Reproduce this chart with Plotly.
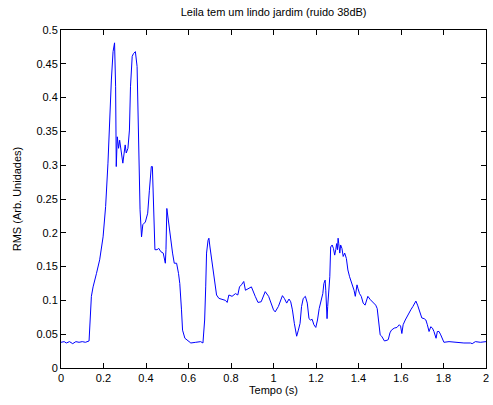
import plotly.graph_objects as go

tempo = [0.000, 0.015, 0.025, 0.040, 0.055, 0.070, 0.085, 0.100, 0.115, 0.132,
         0.143, 0.151, 0.167, 0.182, 0.198, 0.210, 0.221, 0.229, 0.237, 0.245,
         0.252, 0.257, 0.260, 0.265, 0.271, 0.276, 0.283, 0.291, 0.302, 0.307,
         0.315, 0.322, 0.327, 0.335, 0.341, 0.350, 0.358, 0.364, 0.369, 0.372,
         0.379, 0.385, 0.397, 0.408, 0.416, 0.425, 0.430, 0.436, 0.442, 0.452,
         0.460, 0.470, 0.481, 0.491, 0.494, 0.498, 0.505, 0.514, 0.525, 0.533,
         0.544, 0.553, 0.559, 0.567, 0.572, 0.583, 0.611, 0.634, 0.657, 0.668,
         0.676, 0.681, 0.685, 0.692, 0.696, 0.701, 0.709, 0.717, 0.724, 0.732,
         0.743, 0.759, 0.774, 0.782, 0.790, 0.805, 0.821, 0.832, 0.840, 0.849,
         0.860, 0.868, 0.883, 0.896, 0.914, 0.927, 0.942, 0.961, 0.977,
         1.000, 1.008, 1.023, 1.042, 1.051, 1.062, 1.073, 1.081, 1.089, 1.098,
         1.109, 1.117, 1.125, 1.132, 1.140, 1.150, 1.159, 1.167, 1.174, 1.182,
         1.190, 1.199, 1.207, 1.215, 1.223, 1.232, 1.237, 1.243, 1.246, 1.249,
         1.252, 1.255, 1.260, 1.265, 1.269, 1.276, 1.282, 1.288, 1.293, 1.297,
         1.301, 1.304, 1.307, 1.312, 1.316, 1.322, 1.328, 1.335, 1.343, 1.350,
         1.358, 1.369, 1.379, 1.385, 1.393, 1.397, 1.405, 1.413, 1.422, 1.431,
         1.444, 1.456, 1.469, 1.481, 1.488, 1.494, 1.502, 1.509, 1.522, 1.534,
         1.540, 1.548, 1.555, 1.568, 1.581, 1.592, 1.598, 1.604, 1.610, 1.620,
         1.631, 1.646, 1.656, 1.670, 1.678, 1.688, 1.698, 1.709, 1.717, 1.724,
         1.732, 1.740, 1.748, 1.755, 1.765, 1.771, 1.779, 1.787, 1.794, 1.802,
         1.826, 1.849, 1.872, 1.896, 1.927, 1.935, 1.950, 1.974, 2.000]

rms = [0.038, 0.039, 0.037, 0.039, 0.036, 0.039, 0.038, 0.039, 0.038, 0.040,
       0.106, 0.120, 0.140, 0.160, 0.194, 0.239, 0.303, 0.372, 0.426, 0.468,
       0.481, 0.416, 0.298, 0.342, 0.325, 0.337, 0.318, 0.303, 0.330, 0.318,
       0.325, 0.352, 0.416, 0.461, 0.465, 0.468, 0.446, 0.352, 0.283, 0.234,
       0.194, 0.212, 0.216, 0.229, 0.263, 0.298, 0.298, 0.244, 0.175, 0.175,
       0.177, 0.172, 0.170, 0.155, 0.175, 0.236, 0.219, 0.189, 0.170, 0.155,
       0.155, 0.140, 0.125, 0.086, 0.056, 0.044, 0.037, 0.038, 0.039, 0.037,
       0.071, 0.120, 0.170, 0.189, 0.192, 0.179, 0.160, 0.145, 0.125, 0.108,
       0.103, 0.101, 0.100, 0.097, 0.108, 0.106, 0.110, 0.108, 0.120, 0.123,
       0.128, 0.115, 0.118, 0.120, 0.106, 0.097, 0.098, 0.113, 0.106,
       0.086, 0.083, 0.091, 0.107, 0.103, 0.096, 0.102, 0.098, 0.086, 0.066,
       0.047, 0.056, 0.066, 0.091, 0.103, 0.106, 0.096, 0.073, 0.071, 0.072,
       0.064, 0.060, 0.071, 0.088, 0.098, 0.110, 0.125, 0.130, 0.115, 0.096,
       0.073, 0.091, 0.120, 0.135, 0.179, 0.182, 0.177, 0.167, 0.175, 0.184,
       0.175, 0.192, 0.184, 0.170, 0.182, 0.177, 0.165, 0.170, 0.162, 0.145,
       0.135, 0.125, 0.115, 0.106, 0.123, 0.118, 0.110, 0.106, 0.096, 0.093,
       0.106, 0.101, 0.096, 0.093, 0.088, 0.066, 0.049, 0.047, 0.040, 0.041,
       0.042, 0.052, 0.056, 0.059, 0.060, 0.064, 0.062, 0.051, 0.064, 0.071,
       0.078, 0.086, 0.091, 0.099, 0.093, 0.083, 0.074, 0.073, 0.071, 0.064,
       0.054, 0.061, 0.059, 0.054, 0.044, 0.054, 0.054, 0.049, 0.044, 0.038,
       0.039, 0.038, 0.038, 0.037, 0.037, 0.036, 0.039, 0.038, 0.039]

x_ticks = [0, 0.2, 0.4, 0.6, 0.8, 1, 1.2, 1.4, 1.6, 1.8, 2]
x_labels = ["0", "0.2", "0.4", "0.6", "0.8", "1", "1.2", "1.4", "1.6", "1.8", "2"]
y_ticks = [0, 0.05, 0.1, 0.15, 0.2, 0.25, 0.3, 0.35, 0.4, 0.45, 0.5]
y_labels = ["0", "0.05", "0.1", "0.15", "0.2", "0.25", "0.3", "0.35", "0.4", "0.45", "0.5"]

FONT = "Liberation Sans, Arial"

fig = go.Figure()
fig.add_trace(go.Scatter(x=tempo, y=rms, mode="lines",
                         line=dict(color="#0000ff", width=1)))

axis_common = dict(showgrid=False, zeroline=False, showline=True, linecolor="#000000",
                   linewidth=1, mirror="ticks", ticks="inside", ticklen=5,
                   tickcolor="#000000", tickfont=dict(family=FONT, size=11, color="#000000"))

fig.update_xaxes(range=[0, 2], tickvals=x_ticks, ticktext=x_labels,
                 title=dict(text="Tempo (s)", standoff=0,
                            font=dict(family=FONT, size=11, color="#000000")),
                 **axis_common)
fig.update_yaxes(range=[0, 0.5], tickvals=y_ticks, ticktext=y_labels,
                 title=dict(text="RMS (Arb. Unidades)", standoff=12,
                            font=dict(family=FONT, size=11, color="#000000")),
                 **axis_common)

fig.update_layout(
    width=493, height=405,
    margin=dict(l=61, r=4, t=30, b=37),
    paper_bgcolor="#ffffff", plot_bgcolor="#ffffff",
    showlegend=False,
    title=dict(text="Leila tem um lindo jardim (ruido 38dB)", x=0.555, xanchor="center",
               y=0.97, yanchor="middle",
               font=dict(family=FONT, size=11, color="#000000")),
)

fig.write_html("out.html")
